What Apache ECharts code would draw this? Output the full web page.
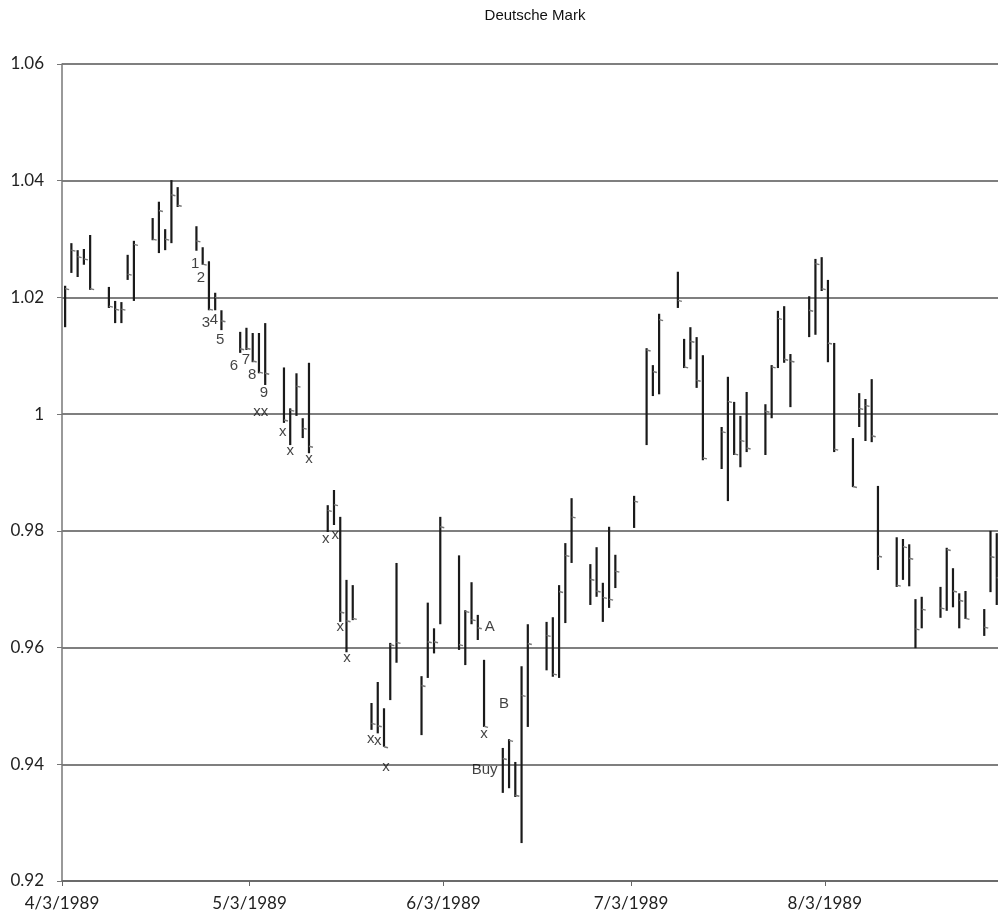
<!DOCTYPE html>
<html><head><meta charset="utf-8">
<script src="https://cdn.jsdelivr.net/npm/echarts@6/dist/echarts.min.js"></script>
<style>html,body{margin:0;padding:0;background:#fff}#c{width:998px;height:916px}</style>
</head><body><div id="c"></div>
<script>
// Trading dates (1989)
const dates = ['4/3','4/4','4/5','4/6','4/7','4/10','4/11','4/12','4/13','4/14','4/17','4/18','4/19','4/20','4/21','4/24','4/25','4/26','4/27','4/28',
'5/1','5/2','5/3','5/4','5/5','5/8','5/9','5/10','5/11','5/12','5/15','5/16','5/17','5/18','5/19','5/22','5/23','5/24','5/25','5/26','5/30','5/31',
'6/1','6/2','6/5','6/6','6/7','6/8','6/9','6/12','6/13','6/14','6/15','6/16','6/19','6/20','6/21','6/22','6/23','6/26','6/27','6/28','6/29','6/30',
'7/3','7/5','7/6','7/7','7/10','7/11','7/12','7/13','7/14','7/17','7/18','7/19','7/20','7/21','7/24','7/25','7/26','7/27','7/28','7/31',
'8/1','8/2','8/3','8/4','8/7','8/8','8/9','8/10','8/11','8/14','8/15','8/16','8/17','8/18','8/21','8/22','8/23','8/24','8/25','8/28','8/29','8/30'];
const highs = [1.0220,1.0293,1.0281,1.0283,1.0307,1.0218,1.0194,1.0192,1.0273,1.0297,1.0336,1.0364,1.0317,1.0401,1.0389,1.0322,1.0286,1.0262,1.0208,1.0178,
1.0141,1.0148,1.0139,1.0139,1.0156,1.0080,1.0010,1.0070,0.9993,1.0088,0.9844,0.9870,0.9824,0.9716,0.9707,0.9505,0.9541,0.9496,0.9608,0.9745,0.9551,0.9677,
0.9633,0.9824,0.9758,0.9664,0.9712,0.9656,0.9579,0.9428,0.9443,0.9404,0.9568,0.9640,0.9644,0.9652,0.9707,0.9779,0.9856,0.9743,0.9772,0.9711,0.9807,0.9759,
0.9860,1.0113,1.0084,1.0172,1.0244,1.0129,1.0149,1.0132,1.0101,0.9978,1.0064,1.0021,0.9997,1.0038,1.0017,1.0084,1.0177,1.0185,1.0103,1.0202,
1.0266,1.0269,1.0230,1.0122,0.9959,1.0036,1.0026,1.0060,0.9877,0.9789,0.9786,0.9777,0.9683,0.9687,0.9704,0.9771,0.9736,0.9693,0.9697,0.9666,0.9800,0.9796];
const lows = [1.0149,1.0242,1.0235,1.0256,1.0213,1.0182,1.0156,1.0156,1.0230,1.0194,1.0298,1.0276,1.0281,1.0293,1.0355,1.0280,1.0256,1.0178,1.0178,1.0144,
1.0105,1.0110,1.0089,1.0070,1.0050,0.9985,0.9947,0.9997,0.9959,0.9933,0.9798,0.9810,0.9644,0.9592,0.9647,0.9459,0.9453,0.9430,0.9510,0.9574,0.9450,0.9548,
0.9590,0.9640,0.9596,0.9570,0.9640,0.9613,0.9464,0.9351,0.9359,0.9344,0.9265,0.9464,0.9561,0.9550,0.9548,0.9642,0.9745,0.9673,0.9687,0.9644,0.9668,0.9702,
0.9805,0.9947,1.0031,1.0034,1.0182,1.0079,1.0094,1.0045,0.9921,0.9906,0.9851,0.9930,0.9909,0.9935,0.9930,0.9993,1.0079,1.0088,1.0012,1.0132,
1.0136,1.0211,1.0089,0.9935,0.9875,0.9978,0.9954,0.9952,0.9733,0.9704,0.9716,0.9705,0.9599,0.9633,0.9651,0.9663,0.9669,0.9633,0.9649,0.9620,0.9695,0.9673];
const closes = [1.0215,1.0281,1.0270,1.0266,1.0215,1.0185,1.0180,1.0180,1.0240,1.0291,1.0300,1.0349,1.0300,1.0376,1.0358,1.0297,1.0257,1.0180,1.0200,1.0160,
1.0112,1.0113,1.0091,1.0072,1.0070,0.9990,1.0007,1.0048,0.9976,0.9945,0.9835,0.9845,0.9661,0.9646,0.9650,0.9470,0.9466,0.9430,0.9605,0.9609,0.9535,0.9610,
0.9610,0.9807,0.9605,0.9662,0.9648,0.9634,0.9465,0.9410,0.9441,0.9347,0.9518,0.9607,0.9621,0.9555,0.9696,0.9758,0.9824,0.9717,0.9697,0.9686,0.9683,0.9731,
0.9851,1.0110,1.0073,1.0162,1.0195,1.0081,1.0125,1.0058,0.9925,0.9970,1.0022,0.9932,0.9955,0.9942,1.0005,1.0081,1.0164,1.0094,1.0091,1.0178,
1.0258,1.0215,1.0122,0.9940,0.9876,1.0010,1.0015,0.9963,0.9757,0.9707,0.9773,0.9753,0.9632,0.9666,0.9668,0.9768,0.9697,0.9681,0.9650,0.9635,0.9756,0.9720];
// Tick labels (dates)
const tickLabels = ['4/3/1989','5/3/1989','6/3/1989','7/3/1989','8/3/1989'];
// Annotations: text, day offset from 4/3/1989, value
const annText = ['1','2','3','4','5','6','7','8','9','xx','x','x','x','x','x','x','x','x','x','x','A','B','x','Buy'];
const annDay =  [21.3,22.2,23.0,24.3,25.3,27.5,29.4,30.4,32.3,31.8,35.3,36.5,39.5,42.2,43.7,44.5,45.6,49.4,50.5,51.8,68.4,70.7,67.5,67.6];
const annVal =  [1.0257,1.0233,1.0156,1.0161,1.0127,1.0082,1.0093,1.0067,1.0036,1.0004,0.9969,0.9937,0.9923,0.9786,0.9793,0.9635,0.9582,0.9443,0.9440,0.9395,0.9635,0.9503,0.9452,0.9390];

const base = Date.UTC(1989,3,3);
function dayOf(s){const p=s.split('/');return (Date.UTC(1989,+p[0]-1,+p[1])-base)/86400000;}
const barData = dates.map((d,i)=>[dayOf(d)+0.5, highs[i], lows[i], closes[i]]);
const tickDays = tickLabels.map(t=>dayOf(t.split('/').slice(0,2).join('/')));
const annData = annText.map((t,i)=>[annDay[i], annVal[i], t]);

const chart = echarts.init(document.getElementById('c'), null, {renderer:'canvas'});
chart.setOption({
  animation:false,
  backgroundColor:'#fff',
  title:{text:'Deutsche Mark', left:530, top:3, textAlign:'center',
    textStyle:{fontFamily:'Liberation Sans', fontSize:15, fontWeight:'normal', color:'#111'}},
  grid:{left:62, top:64, right:0, bottom:35},
  xAxis:{type:'value', min:0, max:149.7,
    axisLine:{show:true, lineStyle:{color:'#666', width:1.5}},
    axisTick:{show:true, length:5, customValues:tickDays, lineStyle:{color:'#666'}},
    axisLabel:{customValues:tickDays, margin:14, fontFamily:'Lato', fontSize:17, color:'#222',
      formatter:v=>{const i=tickDays.indexOf(v);return i>=0?tickLabels[i]:'';}},
    splitLine:{show:false}},
  yAxis:{type:'value', min:0.92, max:1.06, interval:0.02,
    axisLine:{show:true, lineStyle:{color:'#777', width:1.5}},
    axisTick:{show:true, length:5, lineStyle:{color:'#777'}},
    axisLabel:{margin:18, fontFamily:'Lato', fontSize:17, color:'#222', formatter:v=>String(+v.toFixed(2))},
    splitLine:{show:true, lineStyle:{color:'#555', width:1.5}}},
  series:[
    {type:'custom', data:barData, encode:{x:0,y:[1,2,3]},
     renderItem:(params, api)=>{
       const x=api.value(0);
       const hi=api.coord([x,api.value(1)]), lo=api.coord([x,api.value(2)]), cl=api.coord([x,api.value(3)]);
       return {type:'group', children:[
         {type:'line', shape:{x1:hi[0],y1:hi[1],x2:lo[0],y2:lo[1]}, style:{stroke:'#1a1a1a', lineWidth:2.2}},
         {type:'line', shape:{x1:cl[0],y1:cl[1],x2:cl[0]+4,y2:cl[1]+1}, style:{stroke:'#777', lineWidth:1.4}}
       ]};
     }},
    {type:'scatter', data:annData, symbolSize:0, silent:true,
     label:{show:true, position:'inside', formatter:p=>p.data[2], fontFamily:'Liberation Sans', fontSize:15, color:'#111'}}
  ]
});
</script></body></html>
